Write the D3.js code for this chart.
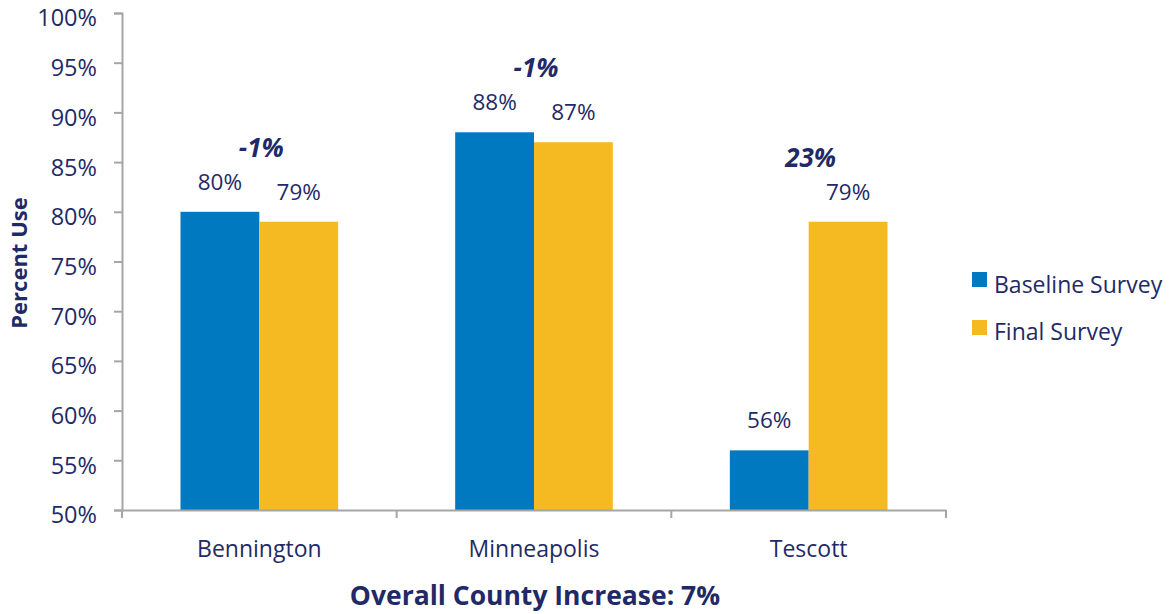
<!DOCTYPE html>
<html><head><meta charset="utf-8">
<script src="https://cdn.jsdelivr.net/npm/d3@7"></script>
<style>body{margin:0;background:#fff}svg{display:block}text{font-family:"Open Sans",sans-serif;fill:#1f2a66}</style>
</head><body><svg id="c" width="1172" height="614"></svg>
<script>
const categories = ["Bennington","Minneapolis","Tescott"];
const baseline = [0.80,0.88,0.56];
const finalS = [0.79,0.87,0.79];
const changes = ["-1%","-1%","23%"];
const seriesNames = ["Baseline Survey","Final Survey"];
const yTicks = [0.5,0.55,0.6,0.65,0.7,0.75,0.8,0.85,0.9,0.95,1.0];
const colors = ["#0079c1","#f5b921"];

const svg = d3.select("#c");
const x = d3.scaleBand().domain(categories).range([122,946]).padding(0);
const y = d3.scaleLinear().domain([0.5,1]).range([510,13]);
const fmt = d3.format(".0%");
const axisColor = "#a6a6a6";

// y axis
const ya = svg.append("g").attr("transform","translate(122,0)")
  .call(d3.axisLeft(y).tickValues(yTicks).tickFormat(fmt).tickSize(8).tickPadding(17));
ya.select(".domain").attr("stroke",axisColor).attr("stroke-width",2);
ya.selectAll(".tick line").attr("stroke",axisColor).attr("stroke-width",2);
ya.selectAll(".tick text").attr("font-size",23.5).attr("dy","0.55em").style("font-family","Open Sans").attr("fill","#1f2a66");

// bars
const bw = x.bandwidth()*0.287;
const data = categories.map((c,i)=>({c,vals:[baseline[i],finalS[i]],chg:changes[i]}));
const g = svg.append("g");
data.forEach(d=>{
  const cx = x(d.c)+x.bandwidth()/2;
  d.vals.forEach((v,j)=>{
    const x0 = cx + (j-1)*bw;
    g.append("rect").attr("x",x0).attr("y",y(v)).attr("width",bw).attr("height",y(0.5)-y(v)).attr("fill",colors[j]);
    g.append("text").attr("x",x0+bw/2).attr("y",y(v)-22).attr("text-anchor","middle").attr("font-size",22.5).text(fmt(v));
  });
  const top = Math.min(y(d.vals[0]),y(d.vals[1]));
  g.append("text").attr("x",cx+2).attr("y",top-55).attr("text-anchor","middle")
   .attr("font-size",26).attr("font-weight","bold").attr("font-style","italic").text(d.chg);
});

// x axis
const xa = svg.append("g").attr("transform","translate(0,510)")
  .call(d3.axisBottom(x).tickSize(0).tickPadding(31));
xa.select(".domain").attr("stroke",axisColor).attr("stroke-width",2);
xa.selectAll(".tick text").attr("font-size",23).style("font-family","Open Sans").attr("fill","#1f2a66");
const bounds = [122].concat(categories.map(c=>x(c)+x.bandwidth()));
svg.append("g").selectAll("line").data(bounds).join("line")
  .attr("x1",d=>d).attr("x2",d=>d).attr("y1",510).attr("y2",518).attr("stroke",axisColor).attr("stroke-width",2);

// titles
svg.append("text").attr("transform","translate(27,263) rotate(-90)").attr("text-anchor","middle")
  .attr("font-size",22).attr("font-weight","bold").text("Percent Use");
svg.append("text").attr("x",535).attr("y",605).attr("text-anchor","middle")
  .attr("font-size",26.5).attr("font-weight","bold").text("Overall County Increase: 7%");

// legend
const lg = svg.append("g");
seriesNames.forEach((s,i)=>{
  lg.append("rect").attr("x",972).attr("y",272+i*48).attr("width",15).attr("height",15).attr("fill",colors[i]);
  lg.append("text").attr("x",994).attr("y",293+i*47).attr("font-size",23).text(s);
});
</script></body></html>
